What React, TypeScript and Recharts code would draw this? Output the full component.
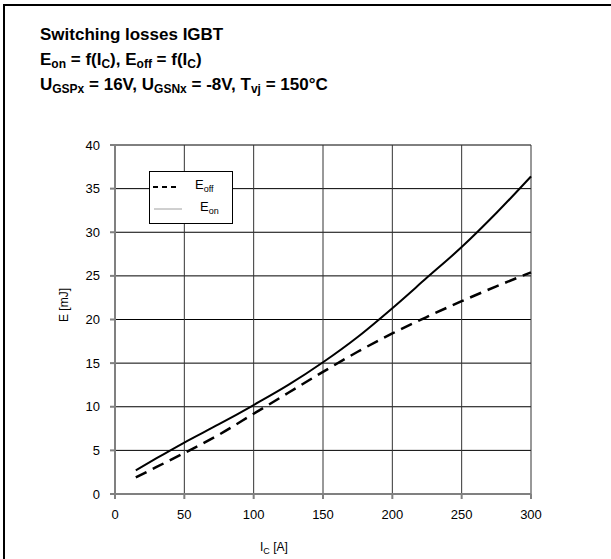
import React from 'react';
import {
  LineChart,
  Line,
  XAxis,
  YAxis,
  CartesianGrid,
} from 'recharts';

// collector current [A]
const currents = [15, 30, 50, 75, 100, 125, 150, 175, 200, 225, 250, 275, 300];
// switching energies [mJ]
const eOn = [2.7, 4.1, 5.9, 8.0, 10.2, 12.5, 15.1, 18.0, 21.3, 24.8, 28.3, 32.2, 36.4];
const eOff = [1.9, 3.1, 4.7, 6.8, 9.2, 11.6, 14.0, 16.3, 18.4, 20.3, 22.1, 23.8, 25.4];

const xTicks = [0, 50, 100, 150, 200, 250, 300];
const yTicks = [0, 5, 10, 15, 20, 25, 30, 35, 40];

const data = currents.map((ic, i) => ({ ic, eOn: eOn[i], eOff: eOff[i] }));

const FONT = 'Arial, "Liberation Sans", Helvetica, sans-serif';

const sub = (t: string, size = 12) => (
  <span style={{ fontSize: size, position: 'relative', top: 3 }}>{t}</span>
);

function LegendBox() {
  return (
    <div
      style={{
        position: 'absolute',
        left: 149,
        top: 171,
        width: 82,
        height: 51,
        border: '1px solid #000',
        background: '#fff',
        fontFamily: FONT,
        fontSize: 13,
      }}
    >
      <svg width={82} height={51} style={{ position: 'absolute', left: 0, top: 0 }}>
        <line x1={3} y1={15} x2={27} y2={15} stroke="#000" strokeWidth={2} strokeDasharray="5 4" />
        <line x1={4} y1={37} x2={32} y2={37} stroke="#a0a0a0" strokeWidth={1} />
      </svg>
      <div style={{ position: 'absolute', left: 45, top: 5 }}>E{sub('off', 9)}</div>
      <div style={{ position: 'absolute', left: 50, top: 27 }}>E{sub('on', 9)}</div>
    </div>
  );
}

export default function App() {
  const title: React.CSSProperties = {
    position: 'absolute',
    left: 40,
    fontWeight: 'bold',
    fontSize: 17,
    lineHeight: '20px',
    whiteSpace: 'nowrap',
  };
  return (
    <div
      style={{
        position: 'absolute',
        left: 0,
        top: 0,
        width: 611,
        height: 559,
        overflow: 'hidden',
        background: '#fff',
        fontFamily: FONT,
        color: '#000',
      }}
    >
      <style>{'body{margin:0;overflow:hidden}'}</style>
      {/* frame */}
      <div style={{ position: 'absolute', left: 3, top: 4, width: 608, height: 2, background: '#000' }} />
      <div style={{ position: 'absolute', left: 3, top: 4, width: 2, height: 555, background: '#000' }} />

      {/* titles */}
      <div style={{ ...title, top: 25 }}>Switching losses IGBT</div>
      <div style={{ ...title, top: 50 }}>
        E{sub('on')} = f(I{sub('C')}), E{sub('off')} = f(I{sub('C')})
      </div>
      <div style={{ ...title, top: 75 }}>
        U{sub('GSPx')} = 16V, U{sub('GSNx')} = -8V, T{sub('vj')} = 150°C
      </div>

      <div style={{ position: 'absolute', left: 0, top: 0 }}>
        <LineChart
          width={611}
          height={559}
          data={data}
          margin={{ top: 145, right: 80, bottom: 35, left: 55 }}
        >
          <CartesianGrid horizontal vertical={false} stroke="#000" strokeWidth={1} />
          <CartesianGrid horizontal={false} vertical stroke="#333" strokeWidth={1} />
          <XAxis
            dataKey="ic"
            type="number"
            domain={[0, 300]}
            ticks={xTicks}
            axisLine={{ stroke: '#808080', strokeWidth: 2 }}
            tickLine={{ stroke: '#808080', strokeWidth: 2 }}
            tickSize={5}
            height={30}
            tick={{ fill: '#000', fontSize: 13, fontFamily: FONT }}
            tickMargin={11}
          />
          <YAxis
            type="number"
            domain={[0, 40]}
            ticks={yTicks}
            axisLine={{ stroke: '#808080', strokeWidth: 2 }}
            tickLine={{ stroke: '#808080', strokeWidth: 2 }}
            tickSize={5}
            width={60}
            tick={{ fill: '#000', fontSize: 13, fontFamily: FONT }}
            tickMargin={10}
          />
          <Line
            dataKey="eOff"
            type="monotone"
            stroke="#000"
            strokeWidth={2.5}
            strokeDasharray="12 7"
            dot={false}
            isAnimationActive={false}
          />
          <Line
            dataKey="eOn"
            type="monotone"
            stroke="#000"
            strokeWidth={2}
            dot={false}
            isAnimationActive={false}
          />
        </LineChart>
      </div>

      <LegendBox />

      {/* axis titles */}
      <div style={{ position: 'absolute', left: 260, top: 540, fontSize: 12, whiteSpace: 'nowrap' }}>
        I{sub('C', 9)} [A]
      </div>
      <div
        style={{
          position: 'absolute',
          left: 64,
          top: 305,
          fontSize: 12,
          whiteSpace: 'nowrap',
          transform: 'translate(-50%, -50%) rotate(-90deg)',
        }}
      >
        E [mJ]
      </div>
    </div>
  );
}
